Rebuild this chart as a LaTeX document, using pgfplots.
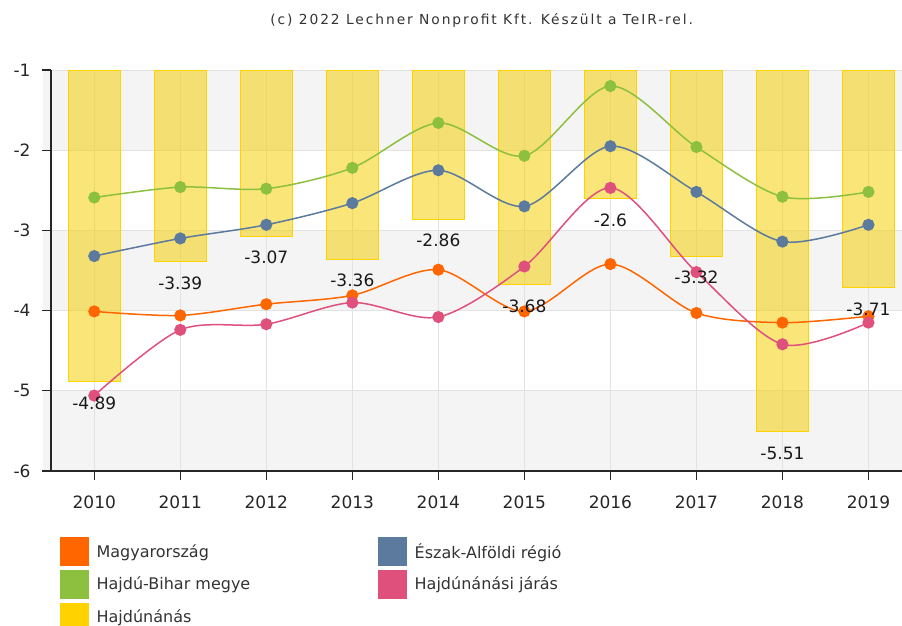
\documentclass[border=0pt]{standalone}
\usepackage{fontspec}
\setmainfont{DejaVu Sans}
\newfontfamily\titlefont[LetterSpace=14]{DejaVu Sans}
\usepackage{pgfplots}
\pgfplotsset{compat=1.18}
\definecolor{cOr}{HTML}{FF6600}
\definecolor{cBl}{HTML}{5B7A9D}
\definecolor{cGr}{HTML}{8DC03F}
\definecolor{cPk}{HTML}{E0507C}
\definecolor{cYe}{HTML}{FFD200}
\definecolor{cYb}{HTML}{F5CE00}
\definecolor{band}{HTML}{F4F4F4}
\definecolor{gridc}{HTML}{E2E2E2}
\definecolor{txt}{HTML}{333333}
\begin{document}
\begin{tikzpicture}
\begin{axis}[
  set layers,
  scale only axis, width=851pt, height=401pt,
  xmin=-0.503, xmax=9.39, ymin=-6, ymax=-1,
  axis x line*=bottom, axis y line*=left,
  axis line style={line width=1.4pt, color=black!85, -},
  xtick={0,1,2,3,4,5,6,7,8,9},
  xticklabels={2010,2011,2012,2013,2014,2015,2016,2017,2018,2019},
  ytick={-6,-5,-4,-3,-2,-1},
  tick align=outside, major tick length=9pt,
  tick style={line width=1.2pt, black!85},
  grid=major, major grid style={gridc, line width=0.9pt},
  tick label style={font=\fontsize{17}{19}\selectfont, text=black!85},
  xticklabel style={yshift=-12pt},
  yticklabel style={xshift=-8pt},
  /pgf/number format/assume math mode=true,
  clip=true,
  legend style={at={(0,0)}, anchor=north west, xshift=9pt, yshift=-66pt,
    draw=none, fill=none, inner sep=0pt,
    font=\fontsize{16}{18}\selectfont, text=txt,
    row sep=4.5pt, column sep=8pt,
    /tikz/column 2/.style={column sep=128pt},
    nodes={inner sep=0pt}},
  legend columns=2, legend cell align=left,
]
% background bands
\addplot[fill=band, draw=none, on layer=axis background, forget plot] coordinates {(-0.6,-1) (9.5,-1) (9.5,-2) (-0.6,-2)} -- cycle;
\addplot[fill=band, draw=none, on layer=axis background, forget plot] coordinates {(-0.6,-3) (9.5,-3) (9.5,-4) (-0.6,-4)} -- cycle;
\addplot[fill=band, draw=none, on layer=axis background, forget plot] coordinates {(-0.6,-5) (9.5,-5) (9.5,-6) (-0.6,-6)} -- cycle;
% bars: Hajdunanas
\addplot[ybar, bar width=0.605, bar shift=0pt, fill=cYb, fill opacity=0.53, draw=cYe, line width=1pt, forget plot]
  coordinates {(0,-4.89) (1,-3.39) (2,-3.07) (3,-3.36) (4,-2.86) (5,-3.68) (6,-2.6) (7,-3.32) (8,-5.51) (9,-3.71)};
% Magyarorszag
\addplot[cOr, line width=1.5pt, smooth, tension=0.5, mark=*, mark size=5.3pt, mark options={fill=cOr, draw=cOr}, forget plot]
  coordinates {(0,-4.01) (1,-4.06) (2,-3.92) (3,-3.81) (4,-3.49) (5,-4.01) (6,-3.42) (7,-4.03) (8,-4.15) (9,-4.07)};
% Eszak-Alfoldi regio
\addplot[cBl, line width=1.5pt, smooth, tension=0.5, mark=*, mark size=5.3pt, mark options={fill=cBl, draw=cBl}, forget plot]
  coordinates {(0,-3.32) (1,-3.10) (2,-2.93) (3,-2.66) (4,-2.25) (5,-2.70) (6,-1.95) (7,-2.52) (8,-3.14) (9,-2.93)};
% Hajdu-Bihar megye
\addplot[cGr, line width=1.5pt, smooth, tension=0.5, mark=*, mark size=5.3pt, mark options={fill=cGr, draw=cGr}, forget plot]
  coordinates {(0,-2.59) (1,-2.46) (2,-2.48) (3,-2.22) (4,-1.66) (5,-2.07) (6,-1.20) (7,-1.96) (8,-2.58) (9,-2.52)};
% Hajdunanasi jaras
\addplot[cPk, line width=1.5pt, smooth, tension=0.5, mark=*, mark size=5.3pt, mark options={fill=cPk, draw=cPk}, forget plot]
  coordinates {(0,-5.06) (1,-4.24) (2,-4.17) (3,-3.90) (4,-4.08) (5,-3.45) (6,-2.47) (7,-3.52) (8,-4.42) (9,-4.15)};
% value labels for bars
\addplot[only marks, mark=none, forget plot, nodes near coords, point meta=explicit symbolic,
  every node near coord/.style={anchor=center, yshift=-21.5pt, font=\fontsize{17}{19}\selectfont, text=black!90, inner sep=0pt}]
  coordinates {(0,-4.89)[-4.89] (1,-3.39)[-3.39] (2,-3.07)[-3.07] (3,-3.36)[-3.36] (4,-2.86)[-2.86] (5,-3.68)[-3.68] (6,-2.6)[-2.6] (7,-3.32)[-3.32] (8,-5.51)[-5.51] (9,-3.71)[-3.71]};
% legend
\addlegendimage{legend image code/.code={\fill[cOr] (0pt,-14pt) rectangle (28pt,14pt);}}
\addlegendentry{Magyarország}
\addlegendimage{legend image code/.code={\fill[cBl] (0pt,-14pt) rectangle (28pt,14pt);}}
\addlegendentry{Észak-Alföldi régió}
\addlegendimage{legend image code/.code={\fill[cGr] (0pt,-14pt) rectangle (28pt,14pt);}}
\addlegendentry{Hajdú-Bihar megye}
\addlegendimage{legend image code/.code={\fill[cPk] (0pt,-14pt) rectangle (28pt,14pt);}}
\addlegendentry{Hajdúnánási járás}
\addlegendimage{legend image code/.code={\fill[cYe] (0pt,-14pt) rectangle (28pt,14pt);}}
\addlegendentry{Hajdúnánás}
\end{axis}
\node[anchor=center, text=txt, font=\titlefont\fontsize{13.8}{15}\selectfont, inner sep=0pt]
  at ([xshift=430.7pt, yshift=451pt]current axis.south west) {(c) 2022 Lechner Nonprofit Kft. Készült a TeIR-rel.};
\pgfresetboundingbox
\path[use as bounding box] (current axis.south west) ++(-51pt,-155pt) rectangle ++(902pt,626pt);
\end{tikzpicture}
\end{document}
